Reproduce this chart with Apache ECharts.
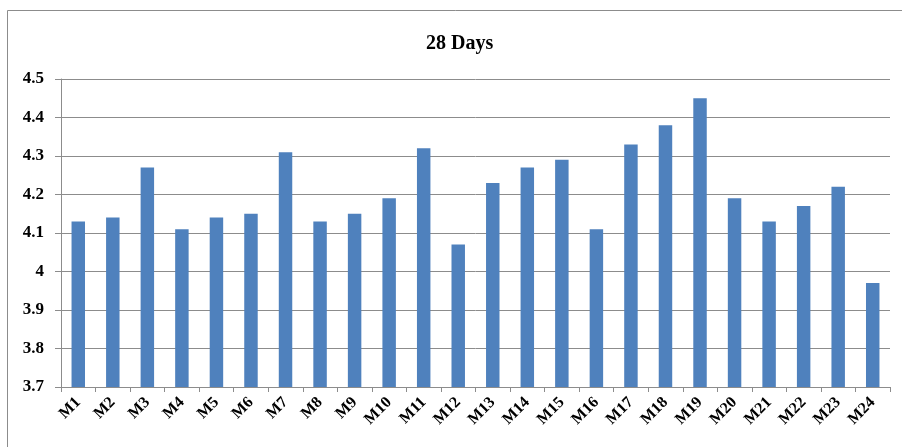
<!DOCTYPE html>
<html>
<head>
<meta charset="utf-8">
<style>
  html, body { margin: 0; padding: 0; background: #fff; }
  #chart { width: 902px; height: 447px; }
</style>
<script src="https://cdn.jsdelivr.net/npm/echarts@6/dist/echarts.min.js"></script>
</head>
<body>
<div id="chart"></div>
<script>
// Compressive strength after 28 days, one bar per mix
const categories = ['M1','M2','M3','M4','M5','M6','M7','M8','M9','M10','M11','M12',
                    'M13','M14','M15','M16','M17','M18','M19','M20','M21','M22','M23','M24'];
const values = [4.13, 4.14, 4.27, 4.11, 4.14, 4.15, 4.31, 4.13, 4.15, 4.19, 4.32, 4.07,
                4.23, 4.27, 4.29, 4.11, 4.33, 4.38, 4.45, 4.19, 4.13, 4.17, 4.22, 3.97];
const yMin = 3.7, yMax = 4.5, yStep = 0.1;

const serif = '"Liberation Serif", "Times New Roman", serif';
const chart = echarts.init(document.getElementById('chart'));
chart.setOption({
  animation: false,
  backgroundColor: '#fff',
  title: {
    text: '28 Days',
    left: 421,
    top: 29,
    textStyle: { fontFamily: serif, fontWeight: 'bold', fontSize: 20, color: '#000' }
  },
  graphic: [{
    type: 'rect',
    shape: { x: 7.5, y: 10.5, width: 1000, height: 1000 },
    style: { fill: 'none', stroke: '#8c8c8c', lineWidth: 1 },
    silent: true
  }],
  grid: { left: 61, right: 12, top: 79, bottom: 60 },
  xAxis: {
    type: 'category',
    data: categories,
    axisLine: { lineStyle: { color: '#8c8c8c', width: 1 } },
    axisTick: { show: true, length: 5, alignWithLabel: false, lineStyle: { color: '#8c8c8c', width: 1 } },
    axisLabel: {
      interval: 0, rotate: 45, margin: 13, color: '#000',
      fontFamily: serif, fontWeight: 'bold', fontSize: 16
    }
  },
  yAxis: {
    type: 'value',
    min: yMin, max: yMax, interval: yStep,
    axisLine: { show: true, lineStyle: { color: '#8c8c8c', width: 1 } },
    axisTick: { show: true, length: 6, lineStyle: { color: '#8c8c8c' } },
    splitLine: { lineStyle: { color: '#8c8c8c', width: 1 } },
    axisLabel: {
      margin: 17, color: '#000',
      fontFamily: serif, fontWeight: 'bold', fontSize: 17,
      formatter: v => String(+v.toFixed(1))
    }
  },
  series: [{
    type: 'bar',
    data: values,
    barWidth: '39%',
    itemStyle: { color: '#4f81bd' }
  }]
});
</script>
</body>
</html>
